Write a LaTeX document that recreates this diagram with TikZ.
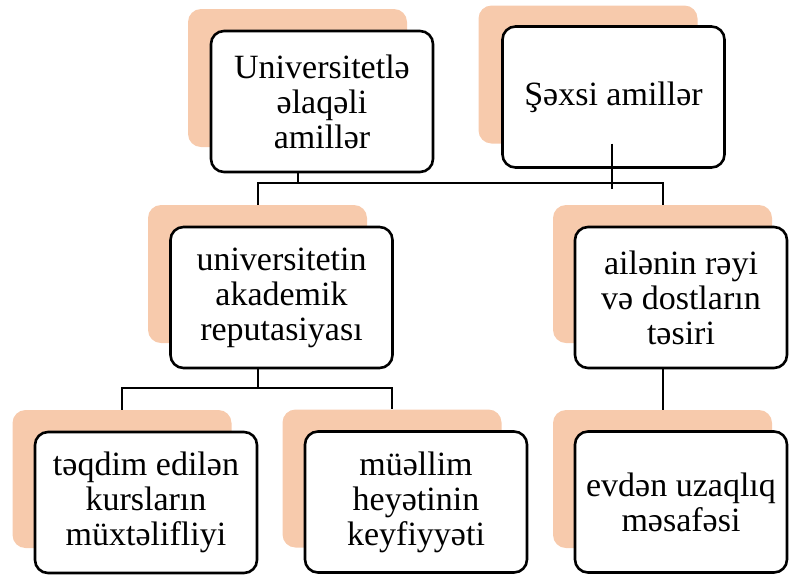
\documentclass[tikz,border=0pt]{standalone}
\usepackage{fontspec}
\setmainfont{Liberation Serif}
\definecolor{peach}{RGB}{247,202,172}

\begin{document}
\begin{tikzpicture}[x=1pt,y=-1pt,
 shade/.style={fill=peach,rounded corners=13pt,minimum width=219pt,minimum height=138pt,inner sep=0pt},
 factor/.style={draw,line width=2.6pt,fill=white,rounded corners=13pt,minimum width=222pt,minimum height=141pt,
   inner sep=0pt,align=center,font=\fontsize{34}{35}\selectfont},
 link/.style={line width=2pt}]
\useasboundingbox (0,0) rectangle (789,574);
%
% shadows
\foreach \n/\x/\y in {univ/297.5/78,sexsi/588/74.5,reput/257.5/274,aile/662.5/274,kurs/122/479,heyet/392/478.5,evden/662.5/479}{
\node[shade] (\n-s) at (\x,\y) {};
}
% boxes
\node[factor] (univ) at (322,101.5) {Universitetlə\\əlaqəli\\amillər};
\node[factor] (sexsi) at (613.5,97) {Şəxsi amillər};
\node[factor] (reput) at (281.5,297.5) {universitetin\\akademik\\reputasiyası};
\node[factor,minimum width=212pt] (aile) at (681,297.5) {ailənin rəyi\\və dostların\\təsiri};
\node[factor] (kurs) at (146,502.5) {təqdim edilən\\kursların\\müxtəlifliyi};
\node[factor] (heyet) at (416,502) {müəllim\\heyətinin\\keyfiyyəti};
\node[factor,minimum width=212pt] (evden) at (681,502) {evdən uzaqlıq\\məsafəsi};

% connectors
\coordinate (topbus) at (0,183);
\coordinate (lowbus) at (0,388);
\coordinate (sexsi-end) at (612,189);
\draw[link] (univ-s |- univ.south) -- (univ-s |- topbus);
\draw[link] (reput-s.north) -- (reput-s |- topbus) -- (aile-s |- topbus) -- (aile-s.north);
\draw[link] (sexsi-end |- sexsi-s.south) -- (sexsi-end);
\draw[link] (reput-s |- reput.south) -- (reput-s |- lowbus);
\draw[link] (kurs-s.north) -- (kurs-s |- lowbus) -- (heyet-s |- lowbus) -- (heyet-s.north);
\draw[link] (aile-s |- aile.south) -- (evden-s.north);
\end{tikzpicture}
\end{document}
